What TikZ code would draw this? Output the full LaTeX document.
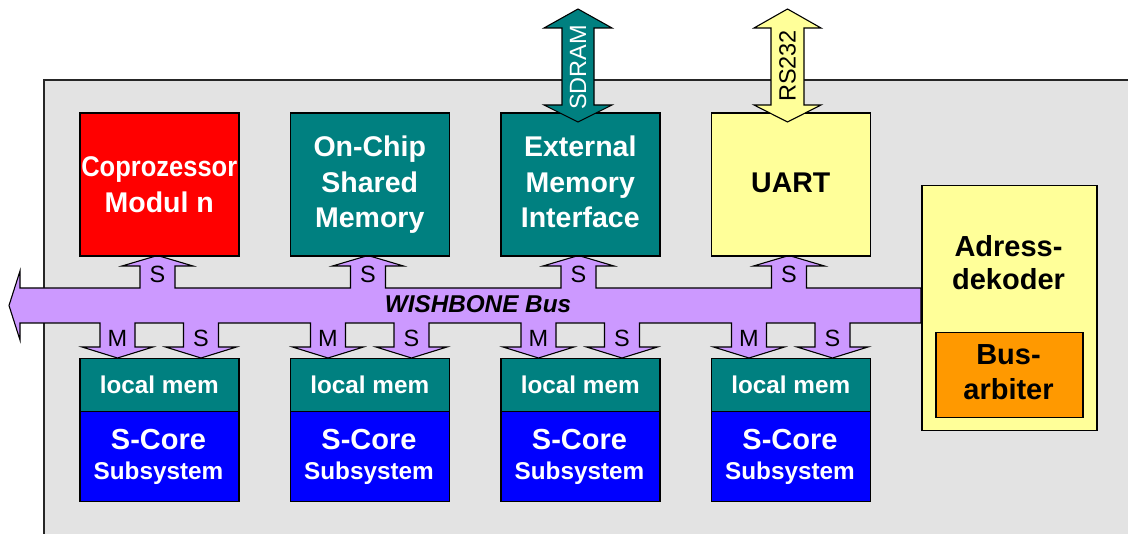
\documentclass[tikz,border=0pt]{standalone}
\usepackage{fontspec}
\setmainfont{Liberation Sans}
\usepackage{graphicx}

\definecolor{chipgray}{RGB}{227,227,227}
\definecolor{copred}{RGB}{255,0,0}
\definecolor{memteal}{RGB}{0,128,128}
\definecolor{coreblue}{RGB}{0,0,255}
\definecolor{paleyellow}{RGB}{255,255,153}
\definecolor{arbiterorange}{RGB}{255,153,0}
\definecolor{buslilac}{RGB}{204,153,255}

\newcommand\blkfont{\fontsize{28.5}{35.5}\selectfont\bfseries}
\newcommand\sidefont{\fontsize{29}{33}\selectfont\bfseries}
\newcommand\memfont{\fontsize{24.3}{28}\selectfont\bfseries}
\newcommand\portfont{\fontsize{23.5}{27}\selectfont}

\tikzset{
  block/.style={draw=black, line width=1.5pt, rectangle, anchor=north west,
                inner sep=0pt, align=center},
  topblock/.style={block, minimum width=159, minimum height=143, font=\blkfont},
  memblock/.style={block, minimum width=159, minimum height=53, fill=memteal,
                   text=white, font=\memfont},
  coreblock/.style={block, minimum width=159, minimum height=90, fill=coreblue},
  busshape/.style={draw=black, line width=1.1pt, fill=buslilac, line join=miter},
  ioarrow/.style={draw=black, line width=1.1pt, line join=miter},
  port/.style={font=\portfont, anchor=base, inner sep=0pt},
  linetext/.style={anchor=base, inner sep=0pt},
}

\begin{document}
\begin{tikzpicture}[x=1pt, y=-1pt]
\useasboundingbox (0,0) rectangle (1128,534);
\clip (0,0) rectangle (1128,534);

% chip area
\fill[chipgray] (44,80) rectangle (1140,545);
\draw[line width=1.5pt, black!85] (44,545) -- (44,80) -- (1140,80);

% WISHBONE bus with its slave (up) and master/slave (down) taps
\draw[busshape] (20,288)
  \foreach \c in {157.5,368,578.5,789} {
    -- (\c-17.5,288) -- (\c-17.5,266) -- (\c-35.5,266) -- (\c,255.5)
    -- (\c+35.5,266) -- (\c+17.5,266) -- (\c+17.5,288) }
  -- (921,288) -- (921,323)
  \foreach \c in {832.5,749,622,538.5,411.5,328,201,117.5} {
    -- (\c+17.5,323) -- (\c+17.5,347) -- (\c+35.5,347) -- (\c,358)
    -- (\c-35.5,347) -- (\c-17.5,347) -- (\c-17.5,323) }
  -- (20,323) -- (20,340) -- (9,305.5) -- (20,271) -- cycle;
\node[linetext, font=\fontsize{24.3}{28}\selectfont\bfseries\itshape] (busname) at (478,313) {WISHBONE Bus};

% top row of slaves
\node[topblock, fill=copred, text=white] (copro) at (79,112.5)
  {\scalebox{0.895}[1]{Coprozessor}\\Modul n};
\node[topblock, fill=memteal, text=white] (shmem) at (289.5,112.5)
  {On-Chip\\Shared\\Memory};
\node[topblock, fill=memteal, text=white] (extmem) at (500,112.5)
  {\raisebox{2.5pt}[\height][\depth]{\parbox{150pt}{\centering External\\Memory\\Interface}}};
\node[topblock, fill=paleyellow, text=black] (uart) at (710.5,112.5)
  {\raisebox{2pt}[\height][\depth]{UART}};

% off-chip interfaces
\draw[ioarrow, fill=memteal] (578,9) -- (612,28) -- (594,28) -- (594,105) -- (612,105)
  -- (578,122) -- (544,105) -- (562,105) -- (562,28) -- (544,28) -- cycle;
\node[font=\portfont, text=white, rotate=90, inner sep=0pt] (sdram) at (578,67.5) {SDRAM};
\draw[ioarrow, fill=paleyellow] (787.5,9) -- (821,28) -- (804,28) -- (804,105) -- (821,105)
  -- (787.5,122) -- (754,105) -- (771,105) -- (771,28) -- (754,28) -- cycle;
\node[font=\portfont, text=black, rotate=90, inner sep=0pt] (rs) at (787.5,66) {RS232};

% port labels on the bus taps
\foreach \c/\n in {157.5/a,368/b,578.5/c,789/d}
  \node[port] (up\n) at (\c,283) {S};
\foreach \m/\s/\n in {117.5/201/a,328/411.5/b,538.5/622/c,749/832.5/d} {
  \node[port] (mst\n) at (\m,347) {M};
  \node[port] (slv\n) at (\s,347) {S};
}

% S-Core subsystems with local memory
\foreach \x/\n in {79/a,289.5/b,500/c,710.5/d} {
  \node[memblock] (lmem\n) at (\x,358) {local mem};
  \node[coreblock] (core\n) at (\x,411) {};
  \node[linetext, text=white, font=\fontsize{29}{33}\selectfont\bfseries]
    (corename\n) at (\x+79.5,450) {S-Core};
  \node[linetext, text=white, font=\memfont]
    (coresub\n) at (\x+79.5,480) {Subsystem};
}

% address decoder with bus arbiter
\node[block, fill=paleyellow, minimum width=175, minimum height=245] (dec) at (921,185) {};
\node[linetext, font=\sidefont] (dec1) at (1008.5,257) {Adress-};
\node[linetext, font=\sidefont] (dec2) at (1008.5,290) {dekoder};
\node[block, fill=arbiterorange, minimum width=147, minimum height=85] (arb) at (935,332) {};
\node[linetext, font=\sidefont] (arb1) at (1008.5,365) {Bus-};
\node[linetext, font=\sidefont] (arb2) at (1008.5,400) {arbiter};
\end{tikzpicture}
\end{document}
